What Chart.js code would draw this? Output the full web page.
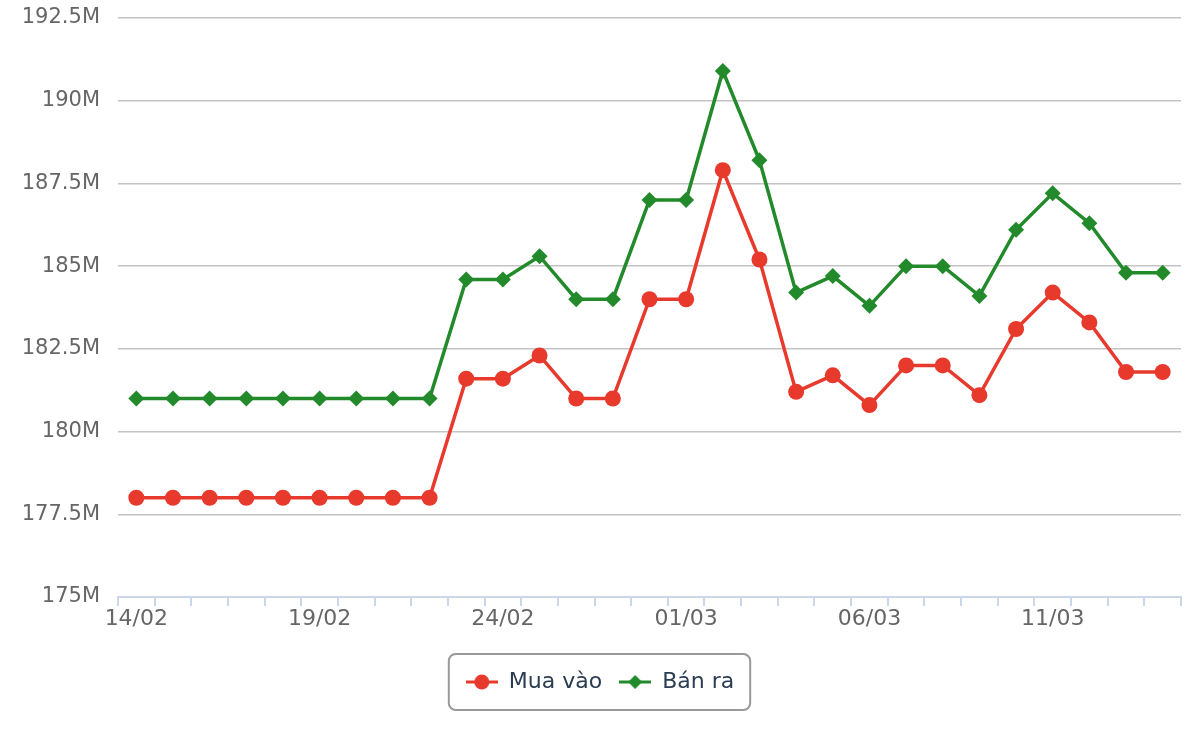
<!DOCTYPE html>
<html>
<head>
<meta charset="utf-8">
<script src="https://cdn.jsdelivr.net/npm/chart.js@4/dist/chart.umd.min.js"></script>
<style>
  html, body { margin: 0; padding: 0; background: #fff; }
  #wrap { width: 1200px; height: 740px; }
</style>
</head>
<body>
<div id="wrap"><canvas id="gold-chart" width="1200" height="740"></canvas></div>
<script>
'use strict';

var labels = ['14/02','15/02','16/02','17/02','18/02','19/02','20/02','21/02','22/02','23/02',
              '24/02','25/02','26/02','27/02','28/02','01/03','02/03','03/03','04/03','05/03',
              '06/03','07/03','08/03','09/03','10/03','11/03','12/03','13/03','14/03'];
// prices in millions
var muaVao = [178, 178, 178, 178, 178, 178, 178, 178, 178, 181.6,
              181.6, 182.3, 181.0, 181.0, 184.0, 184.0, 187.9, 185.2, 181.2, 181.7,
              180.8, 182.0, 182.0, 181.1, 183.1, 184.2, 183.3, 181.8, 181.8];
var banRa = [181, 181, 181, 181, 181, 181, 181, 181, 181, 184.6,
             184.6, 185.3, 184.0, 184.0, 187.0, 187.0, 190.9, 188.2, 184.2, 184.7,
             183.8, 185.0, 185.0, 184.1, 186.1, 187.2, 186.3, 184.8, 184.8];
var yTicks = [175, 177.5, 180, 182.5, 185, 187.5, 190, 192.5];

var RED = '#e8392d';
var GREEN = '#238a2b';
var FONT = '"DejaVu Sans", Verdana, sans-serif';

// legend symbol: short line with the marker on it
function legendIcon(color, shape) {
    var c = document.createElement('canvas');
    c.width = 32; c.height = 18;
    var g = c.getContext('2d');
    g.strokeStyle = color; g.lineWidth = 3;
    g.beginPath(); g.moveTo(0, 9); g.lineTo(32, 9); g.stroke();
    g.fillStyle = color;
    g.beginPath();
    if (shape === 'circle') {
        g.arc(16, 9, 7.5, 0, Math.PI * 2);
    } else {
        g.moveTo(16, 2); g.lineTo(23, 9); g.lineTo(16, 16); g.lineTo(9, 9); g.closePath();
    }
    g.fill();
    return c;
}
var icons = [legendIcon(RED, 'circle'), legendIcon(GREEN, 'diamond')];

var legendBox = {
    id: 'legendBox',
    afterDraw: function (chart) {
        var boxes = chart.legend.legendHitBoxes;
        if (!boxes || !boxes.length) return;
        var left = Infinity, right = -Infinity, top = Infinity, bottom = -Infinity;
        boxes.forEach(function (b) {
            left = Math.min(left, b.left);
            right = Math.max(right, b.left + b.width);
            top = Math.min(top, b.top);
            bottom = Math.max(bottom, b.top + b.height);
        });
        var x = left - 17, y = (top + bottom) / 2 - 28, w = right - left + 33, h = 56;
        var ctx = chart.ctx;
        ctx.save();
        ctx.strokeStyle = '#999999';
        ctx.lineWidth = 2;
        ctx.beginPath();
        ctx.roundRect(x, y, w, h, 7);
        ctx.stroke();
        ctx.restore();
    }
};

var ctx = document.getElementById('gold-chart').getContext('2d');
var chart = new Chart(ctx, {
    type: 'line',
    data: {
        labels: labels,
        datasets: [{
            label: 'Mua vào',
            data: muaVao,
            borderColor: RED,
            backgroundColor: RED,
            borderWidth: 3.5,
            pointStyle: 'circle',
            pointRadius: 8,
            pointBorderWidth: 0,
            tension: 0
        }, {
            label: 'Bán ra',
            data: banRa,
            borderColor: GREEN,
            backgroundColor: GREEN,
            borderWidth: 3.5,
            pointStyle: 'rectRot',
            pointRadius: 8,
            pointBorderWidth: 0,
            tension: 0
        }]
    },
    options: {
        responsive: false,
        animation: false,
        layout: { padding: { top: 18, right: 19, left: 19, bottom: 37 } },
        scales: {
            x: {
                offset: true,
                grid: {
                    offset: true,
                    drawOnChartArea: false,
                    drawTicks: true,
                    tickLength: 9,
                    color: '#ccd6eb',
                    lineWidth: 2
                },
                border: { color: '#ccd6eb', width: 2 },
                ticks: {
                    autoSkip: false,
                    maxRotation: 0,
                    padding: 0,
                    color: '#666666',
                    font: { family: FONT, size: 22 },
                    callback: function (v, i) { return i % 5 === 0 ? labels[i] : ''; }
                },
                afterFit: function (s) { s.height = 57; }
            },
            y: {
                min: 175,
                max: 192.5,
                afterBuildTicks: function (s) { s.ticks = yTicks.map(function (v) { return { value: v }; }); },
                grid: { color: '#c4c4c4', lineWidth: 1.5, drawTicks: false },
                border: { display: false },
                ticks: {
                    padding: 18,
                    color: '#666666',
                    font: { family: FONT, size: 21 },
                    callback: function (v) { return v + 'M'; }
                },
                afterFit: function (s) { s.width = 99; s.paddingTop = 0; s.paddingBottom = 0; }
            }
        },
        plugins: {
            tooltip: { enabled: false },
            legend: {
                position: 'bottom',
                labels: {
                    usePointStyle: true,
                    pointStyleWidth: 32,
                    padding: 17,
                    color: '#2b3d52',
                    font: { family: FONT, size: 22 },
                    generateLabels: function (ch) {
                        return ch.data.datasets.map(function (d, i) {
                            return {
                                text: d.label,
                                pointStyle: icons[i],
                                fillStyle: d.borderColor,
                                strokeStyle: d.borderColor,
                                lineWidth: 0,
                                fontColor: '#2b3d52',
                                datasetIndex: i,
                                hidden: false
                            };
                        });
                    }
                }
            }
        }
    },
    plugins: [legendBox]
});
</script>
</body>
</html>
